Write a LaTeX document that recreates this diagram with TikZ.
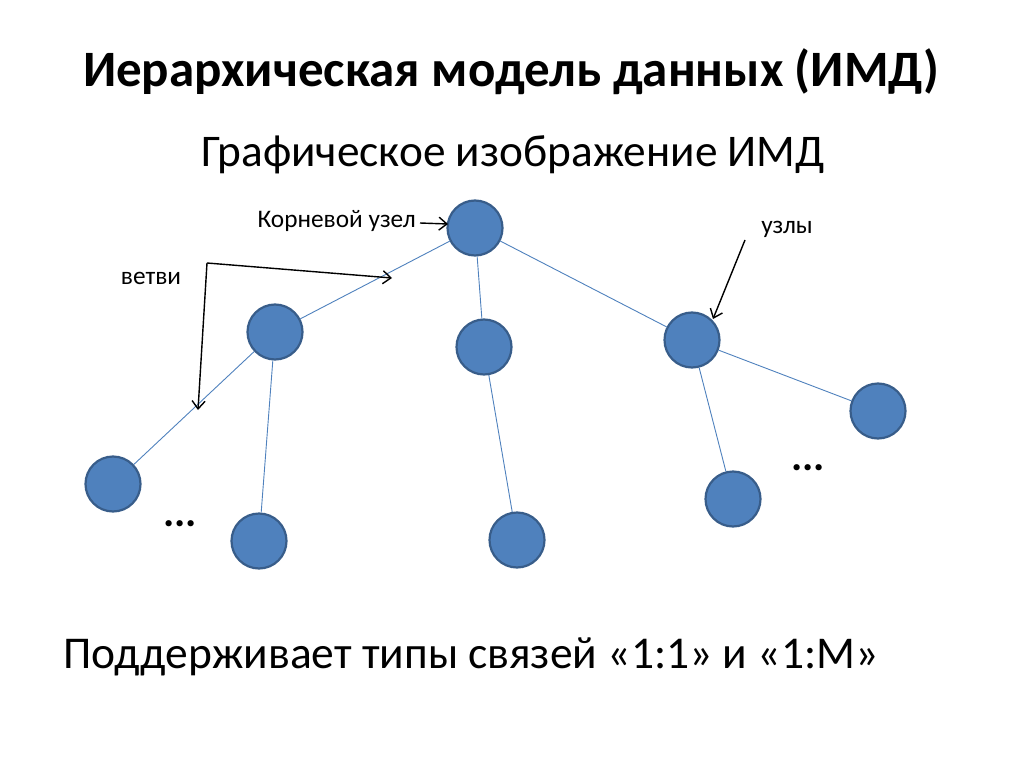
\documentclass[tikz,border=0pt]{standalone}
\usepackage{fontspec}
\setmainfont{Carlito}
\usetikzlibrary{arrows.meta}
\definecolor{nodefill}{HTML}{4F81BD}
\definecolor{nodeedge}{HTML}{385D8A}
\begin{document}
\begin{tikzpicture}[x=1pt,y=-1pt,
  tnode/.style={circle,fill=nodefill,draw=nodeedge,line width=2.2pt,minimum size=55pt,inner sep=0pt},
  edge/.style={draw=nodefill,line width=0.9pt},
  callout/.style={draw=black,line width=1.4pt,-{Straight Barb[length=8pt,width=13pt]}},
  lbl/.style={font=\fontsize{25.3}{27}\selectfont,inner sep=0pt}]
\useasboundingbox (0,0) rectangle (1024,767);
\node[font=\fontsize{51}{56}\selectfont\bfseries] (title) at (511,72) {Иерархическая модель данных (ИМД)};
\node[font=\fontsize{45.3}{50}\selectfont] (sub) at (513,155) {Графическое изображение ИМД};
\node[font=\fontsize{45.5}{50}\selectfont] (bottom) at (471,657) {Поддерживает типы связей «1:1» и «1:М»};

\node[tnode] (r) at (475,228) {};
\node[tnode] (a) at (275,332) {};
\node[tnode] (b) at (484,347) {};
\node[tnode] (c) at (692,340) {};
\node[tnode] (a1) at (113,484) {};
\node[tnode] (a2) at (259,541) {};
\node[tnode] (b1) at (517,540) {};
\node[tnode] (c1) at (733,499) {};
\node[tnode] (c2) at (878,411) {};

\draw[edge] (r) -- (a);
\draw[edge] (r) -- (b);
\draw[edge] (r) -- (c);
\draw[edge] (a) -- (a1);
\draw[edge] (a) -- (a2);
\draw[edge] (b) -- (b1);
\draw[edge] (c) -- (c1);
\draw[edge] (c) -- (c2);

\node[font=\fontsize{42}{46}\selectfont\bfseries] (d1) at (180,524) {...};
\node[font=\fontsize{42}{46}\selectfont\bfseries] (d2) at (808,468) {...};

\node[lbl,anchor=east] (root) at (416,221) {Корневой узел};
\node[lbl] (vetvi) at (151,278) {ветви};
\node[lbl] (uzly) at (787,229) {узлы};

\coordinate (v0) at (207,263);
\coordinate (v1) at (392,278);
\coordinate (v2) at (198,410);
\coordinate (u0) at (745,240);
\coordinate (u1) at (713,319);
\coordinate (k0) at (420,223);
\coordinate (k1) at (448,224);
\draw[callout] (v0) -- (v1);
\draw[callout] (v0) -- (v2);
\draw[callout] (u0) -- (u1);
\draw[callout] (k0) -- (k1);
\end{tikzpicture}
\end{document}
